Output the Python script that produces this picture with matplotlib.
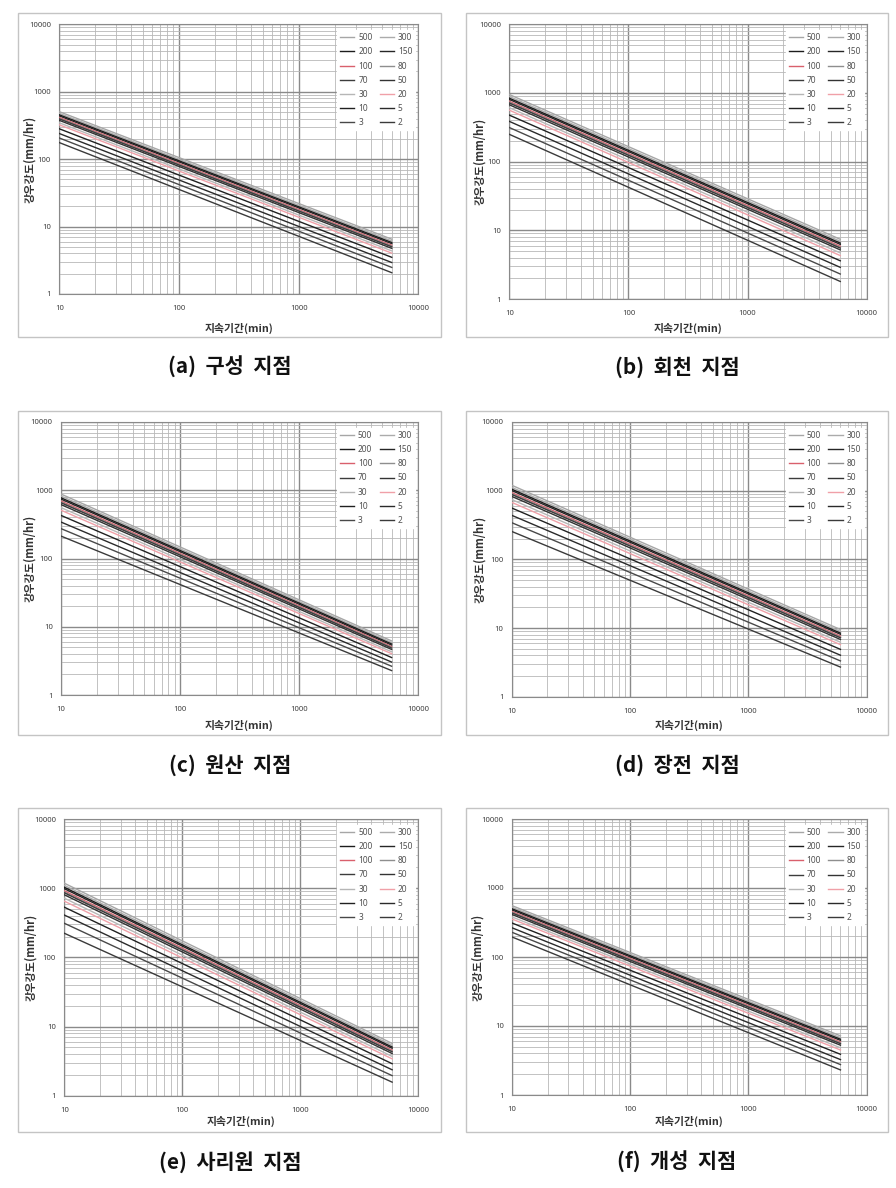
import matplotlib
matplotlib.use("Agg")
import matplotlib.pyplot as plt
from matplotlib.patches import Rectangle
from matplotlib.ticker import LogLocator, FixedLocator, NullFormatter

plt.rcParams['font.family'] = ['Noto Sans CJK KR', 'DejaVu Sans']

# ---------------- data ----------------
durations = [10, 6000]  # min
return_periods = [500, 300, 200, 150, 100, 80, 70, 50, 30, 20, 10, 5, 3, 2]

# intensity (mm/hr) at 10 min and at 6000 min for each return period
a_d10 = [506, 477, 454, 438, 415, 402, 395, 376, 346, 323, 282, 240, 206, 176]
a_d6000 = [6.50, 6.11, 5.80, 5.59, 5.28, 5.11, 5.01, 4.75, 4.36, 4.04, 3.50, 2.93, 2.48, 2.07]

b_d10 = [950, 889, 840, 806, 757, 730, 714, 673, 611, 562, 476, 386, 314, 250]
b_d6000 = [7.40, 6.91, 6.52, 6.24, 5.86, 5.64, 5.51, 5.19, 4.69, 4.29, 3.60, 2.89, 2.31, 1.80]

c_d10 = [880, 822, 775, 742, 696, 670, 655, 616, 557, 510, 428, 342, 274, 213]
c_d6000 = [6.20, 5.86, 5.59, 5.39, 5.12, 4.97, 4.88, 4.65, 4.30, 4.03, 3.54, 3.04, 2.64, 2.28]

d_d10 = [1200, 1117, 1052, 1005, 939, 903, 881, 826, 743, 676, 560, 438, 342, 255]
d_d6000 = [9.50, 8.91, 8.43, 8.10, 7.62, 7.36, 7.21, 6.81, 6.21, 5.73, 4.89, 4.02, 3.32, 2.70]

e_d10 = [1180, 1096, 1030, 983, 916, 879, 857, 802, 717, 649, 531, 409, 311, 223]
e_d6000 = [5.70, 5.34, 5.05, 4.85, 4.56, 4.40, 4.31, 4.07, 3.70, 3.41, 2.90, 2.37, 1.95, 1.57]

f_d10 = [555, 524, 499, 481, 456, 442, 434, 413, 381, 355, 311, 265, 228, 195]
f_d6000 = [7.20, 6.77, 6.43, 6.19, 5.85, 5.66, 5.55, 5.27, 4.83, 4.49, 3.89, 3.26, 2.76, 2.31]

titles = ["(a)  구성  지점", "(b)  회천  지점", "(c)  원산  지점",
          "(d)  장전  지점", "(e)  사리원  지점", "(f)  개성  지점"]
xlabel = "지속기간(min)"
ylabel = "강우강도(mm/hr)"
xticks = [10, 100, 1000, 10000]
xticklabels = ["10", "100", "1000", "10000"]
yticks = [1, 10, 100, 1000, 10000]
yticklabels = ["1", "10", "100", "1000", "10000"]

series_colors = ['#a6a6a6', '#ababab', '#1c1c1c', '#262626', '#d9606c', '#8e8e8e',
                 '#3c3c3c', '#333333', '#b6b6b6', '#f0a0a8', '#202020', '#2a2a2a',
                 '#484848', '#3a3a3a']

# ---------------- layout (pixels) ----------------
W, H = 896, 1188
panels = [
    dict(d10=a_d10, d6000=a_d6000, plot=(59.3, 418.3, 24.3, 294.0), border=(18, 13, 441, 337),
         ylx=30, xly=328, tx=230, ty=367),
    dict(d10=b_d10, d6000=b_d6000, plot=(509.3, 866.7, 24.3, 299.0), border=(466, 13, 888, 337),
         ylx=480, xly=328, tx=677, ty=367),
    dict(d10=c_d10, d6000=c_d6000, plot=(61.0, 418.0, 422.0, 695.0), border=(18, 410.7, 441, 735),
         ylx=30, xly=725, tx=230, ty=765),
    dict(d10=d_d10, d6000=d_d6000, plot=(511.7, 866.7, 422.0, 696.7), border=(466, 410.7, 888, 735),
         ylx=480, xly=725, tx=677, ty=765),
    dict(d10=e_d10, d6000=e_d6000, plot=(64.3, 418.3, 819.0, 1095.7), border=(18, 808, 441, 1132),
         ylx=31, xly=1121.5, tx=230, ty=1162),
    dict(d10=f_d10, d6000=f_d6000, plot=(512.0, 866.7, 819.0, 1095.0), border=(466, 808, 888, 1132),
         ylx=478, xly=1121.5, tx=677, ty=1162),
]

fig = plt.figure(figsize=(W / 100, H / 100), dpi=100)
fig.patch.set_facecolor('white')

for p, title in zip(panels, titles):
    x0, x1, yt, yb = p['plot']
    bx0, by0, bx1, by1 = p['border']
    fig.add_artist(Rectangle((bx0 / W, 1 - by1 / H), (bx1 - bx0) / W, (by1 - by0) / H,
                             transform=fig.transFigure, fill=False, ec='#c4c4c4', lw=1.0))
    ax = fig.add_axes([x0 / W, 1 - yb / H, (x1 - x0) / W, (yb - yt) / H])
    ax.set_xscale('log')
    ax.set_yscale('log')
    ax.set_xlim(10, 10000)
    ax.set_ylim(1, 10000)

    lines = []
    for rp, v10, v6000, col in zip(return_periods, p['d10'], p['d6000'], series_colors):
        ln, = ax.plot(durations, [v10, v6000], color=col, lw=1.0, label=str(rp), zorder=3)
        lines.append(ln)

    ax.xaxis.set_major_locator(FixedLocator(xticks))
    ax.set_xticklabels(xticklabels)
    ax.yaxis.set_major_locator(FixedLocator(yticks))
    ax.set_yticklabels(yticklabels)
    ax.xaxis.set_minor_locator(LogLocator(base=10, subs=range(2, 10)))
    ax.yaxis.set_minor_locator(LogLocator(base=10, subs=range(2, 10)))
    ax.xaxis.set_minor_formatter(NullFormatter())
    ax.yaxis.set_minor_formatter(NullFormatter())
    ax.tick_params(which='both', length=0)
    ax.tick_params(axis='y', pad=6, labelsize=5.5, labelcolor='#404040')
    ax.tick_params(axis='x', pad=8, labelsize=5.5, labelcolor='#404040')
    for lab in ax.get_xticklabels() + ax.get_yticklabels():
        lab.set_family(['Noto Sans', 'DejaVu Sans'])
    ax.grid(True, which='major', color='#8a8a8a', lw=1.0, zorder=1)
    ax.grid(True, which='minor', color='#b8b8b8', lw=0.6, zorder=1)
    ax.set_axisbelow(True)
    for s in ax.spines.values():
        s.set_color('#8a8a8a')
        s.set_linewidth(0.8)

    # legend laid out row-wise: 500 300 / 200 150 / ...
    order = list(range(0, 14, 2)) + list(range(1, 14, 2))
    leg = ax.legend([lines[i] for i in order], [lines[i].get_label() for i in order],
                    ncol=2, loc='upper right', bbox_to_anchor=(1 - 3 / (x1 - x0), 1 - 6 / (yb - yt)),
                    fontsize=6, frameon=True, fancybox=False, framealpha=1.0,
                    edgecolor='white', facecolor='white', handlelength=1.7,
                    handletextpad=0.45, columnspacing=0.9, labelspacing=0.62,
                    borderpad=0.35, borderaxespad=0)
    leg.set_zorder(5)
    for t in leg.get_texts():
        t.set_color('#505050')
        t.set_family(['Noto Sans', 'DejaVu Sans'])

    fig.text(p['ylx'] / W, 1 - ((yt + yb) / 2) / H, ylabel, rotation=90, ha='center', va='center',
             fontsize=8, fontweight='bold', color='#333333')
    fig.text(((x0 + x1) / 2) / W, 1 - p['xly'] / H, xlabel, ha='center', va='center',
             fontsize=7.8, fontweight='bold', color='#333333')
    fig.text(p['tx'] / W, 1 - p['ty'] / H, title, ha='center', va='center',
             fontsize=15, fontweight='bold', color='#111111')

fig.savefig('out.png', dpi=100, facecolor='white')
